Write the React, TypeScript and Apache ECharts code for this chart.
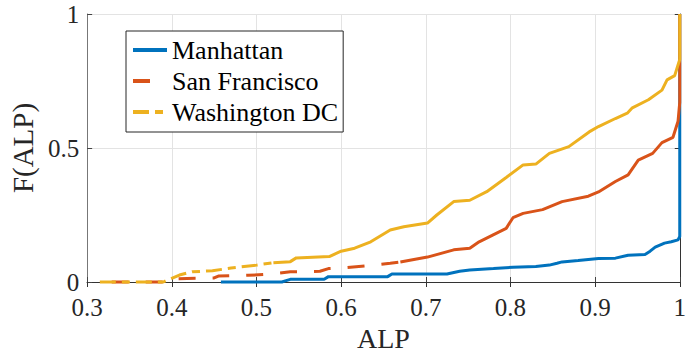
import React, { useEffect, useRef } from "react";
import * as echarts from "echarts";

// ---- data ----
const xTicks = [0.3, 0.4, 0.5, 0.6, 0.7, 0.8, 0.9, 1];
const yTicks = [0, 0.5, 1];

const manhattanX = [0.458, 0.53, 0.535, 0.54, 0.58, 0.585, 0.655, 0.66, 0.725, 0.74, 0.752, 0.78, 0.803, 0.83, 0.846, 0.855, 0.861, 0.88, 0.904, 0.924, 0.939, 0.959, 0.965, 0.971, 0.982, 0.99, 0.998, 1.0, 1.0];
const manhattanY = [0, 0, 0.005, 0.01, 0.01, 0.02, 0.02, 0.03, 0.03, 0.04, 0.045, 0.05, 0.055, 0.058, 0.063, 0.07, 0.075, 0.08, 0.088, 0.089, 0.1, 0.103, 0.115, 0.13, 0.145, 0.15, 0.157, 0.17, 1];

const sfLowX = [0.329, 0.4, 0.405, 0.45, 0.455, 0.49, 0.52, 0.54, 0.575, 0.585, 0.6, 0.63, 0.658, 0.67];
const sfLowY = [0, 0, 0.012, 0.015, 0.022, 0.025, 0.03, 0.038, 0.04, 0.05, 0.052, 0.06, 0.07, 0.075];
const sfHighX = [0.67, 0.702, 0.733, 0.752, 0.763, 0.779, 0.795, 0.803, 0.815, 0.838, 0.861, 0.892, 0.904, 0.924, 0.939, 0.951, 0.968, 0.979, 0.992, 0.998, 1.0, 1.0];
const sfHighY = [0.075, 0.093, 0.12, 0.126, 0.15, 0.175, 0.2, 0.24, 0.256, 0.27, 0.3, 0.32, 0.336, 0.375, 0.4, 0.455, 0.48, 0.52, 0.54, 0.6, 0.67, 1];

const dcLowX = [0.315, 0.39, 0.397, 0.409, 0.424, 0.448, 0.47, 0.5, 0.52];
const dcLowY = [0, 0, 0.01, 0.026, 0.038, 0.042, 0.052, 0.063, 0.072];
const dcHighX = [0.52, 0.54, 0.547, 0.586, 0.6, 0.616, 0.635, 0.658, 0.674, 0.702, 0.713, 0.733, 0.752, 0.772, 0.795, 0.815, 0.83, 0.846, 0.869, 0.893, 0.904, 0.924, 0.938, 0.944, 0.963, 0.979, 0.985, 0.994, 1.0, 1.0];
const dcHighY = [0.072, 0.076, 0.09, 0.095, 0.115, 0.126, 0.15, 0.194, 0.206, 0.22, 0.25, 0.3, 0.305, 0.337, 0.39, 0.437, 0.44, 0.48, 0.505, 0.56, 0.58, 0.61, 0.63, 0.65, 0.68, 0.716, 0.754, 0.77, 0.83, 1];

const names = ["Manhattan", "San Francisco", "Washington DC"];
const colors = ["#0072BD", "#D95319", "#EDB120"];

const zip = (xs: number[], ys: number[]) => xs.map((x, i) => [x, ys[i]]);

const FONT = "'Liberation Serif', 'Times New Roman', 'DejaVu Serif', serif";

export default function App() {
  const ref = useRef<HTMLDivElement>(null);
  useEffect(() => {
    if (!ref.current) return;
    const chart = echarts.init(ref.current, undefined, { renderer: "svg" });
    const fmt = (v: number) => String(Math.round(v * 10) / 10);
    const gridLine = { show: true, lineStyle: { color: "#e3e3e3", width: 1 } };
    const mkLine = (name: string, color: string, data: number[][], type: any) => ({
      type: "line",
      name,
      data,
      showSymbol: false,
      symbol: "none",
      clip: false,
      lineStyle: { color, width: 3, type },
      itemStyle: { color },
    });
    chart.setOption({
      animation: false,
      backgroundColor: "#fff",
      textStyle: { fontFamily: FONT },
      grid: { left: 87, right: 4, top: 14, bottom: 76 },
      legend: {
        orient: "vertical",
        left: 126,
        top: 31,
        data: names,
        itemWidth: 34,
        itemHeight: 14,
        itemGap: 5,
        padding: [6, 5, 7, 5],
        borderColor: "#262626",
        borderWidth: 1,
        backgroundColor: "#fff",
        itemStyle: { opacity: 0 },
        lineStyle: { width: 4 },
        textStyle: { fontFamily: FONT, fontSize: 26, color: "#000", lineHeight: 26 },
      },
      xAxis: [
        {
          type: "value",
          min: 0.3,
          max: 1,
          interval: 0.1,
          position: "bottom",
          axisLine: { lineStyle: { color: "#777", width: 1 } },
          axisTick: { inside: true, length: 5, lineStyle: { color: "#444" } },
          axisLabel: { formatter: fmt, fontFamily: FONT, fontSize: 25, color: "#262626", margin: 13 },
          splitLine: gridLine,
          name: "ALP",
          nameLocation: "middle",
          nameGap: 41,
          nameTextStyle: { fontFamily: FONT, fontSize: 28, color: "#262626" },
        },
        {
          type: "value",
          min: 0.3,
          max: 1,
          interval: 0.1,
          position: "top",
          axisLine: { show: true, lineStyle: { color: "#333", width: 1 } },
          axisTick: { show: true, inside: true, length: 5, lineStyle: { color: "#333" } },
          axisLabel: { show: false },
          splitLine: { show: false },
        },
      ],
      yAxis: [
        {
          type: "value",
          min: 0,
          max: 1,
          interval: 0.5,
          position: "left",
          axisLine: { show: true, lineStyle: { color: "#777", width: 1 } },
          axisTick: { show: true, inside: true, length: 5, lineStyle: { color: "#444" } },
          axisLabel: { formatter: fmt, fontFamily: FONT, fontSize: 25, color: "#262626", margin: 8 },
          splitLine: gridLine,
          name: "F(ALP)",
          nameLocation: "middle",
          nameGap: 47,
          nameTextStyle: { fontFamily: FONT, fontSize: 29, color: "#262626" },
        },
        {
          type: "value",
          min: 0,
          max: 1,
          interval: 0.5,
          position: "right",
          axisLine: { show: true, lineStyle: { color: "#333", width: 1 } },
          axisTick: { show: true, inside: true, length: 5, lineStyle: { color: "#333" } },
          axisLabel: { show: false },
          splitLine: { show: false },
        },
      ],
      series: [
        mkLine(names[0], colors[0], zip(manhattanX, manhattanY), "solid"),
        mkLine(names[1], colors[1], zip(sfLowX, sfLowY), [17, 17]),
        mkLine(names[1], colors[1], zip(sfHighX, sfHighY), "solid"),
        mkLine(names[2], colors[2], zip(dcLowX, dcLowY), [16, 6, 8, 6]),
        mkLine(names[2], colors[2], zip(dcHighX, dcHighY), "solid"),
      ],
    });
    return () => chart.dispose();
  }, []);
  return (
    <div
      ref={ref}
      style={{ position: "fixed", left: 0, top: 0, width: 689, height: 358, background: "#fff" }}
    />
  );
}
